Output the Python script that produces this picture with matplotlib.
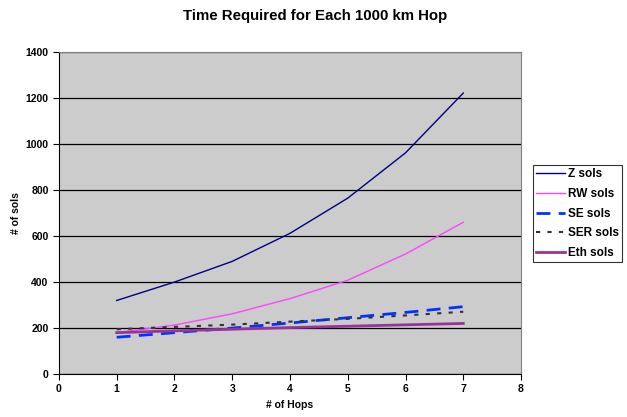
import numpy as np
import matplotlib.pyplot as plt

plt.rcParams['font.family'] = ['Liberation Sans', 'DejaVu Sans']

hops = [1, 2, 3, 4, 5, 6, 7]
z_sols = [320, 400, 490, 612, 765, 962, 1222]
rw_sols = [180, 213, 262, 328, 408, 522, 660]
se_sols = [160, 180, 200, 222, 245, 268, 293]
ser_sols = [195, 205, 215, 228, 240, 255, 271]
eth_sols = [180, 188, 195, 202, 208, 214, 220]

fig = plt.figure(figsize=(6.27, 4.17), dpi=100)
ax = fig.add_axes([0.094, 0.103, 0.737, 0.772])
ax.set_facecolor('#CCCCCC')

ax.plot(hops, z_sols, color='#000080', lw=1.0, label='Z sols')
ax.plot(hops, rw_sols, color='#FF44FF', lw=1.0, label='RW sols')
ax.plot(hops, se_sols, color='#0033FF', lw=2.0, ls=(0, (5, 3)), label='SE sols')
ax.plot(hops, ser_sols, color='#333333', lw=1.5, ls=(0, (2, 3.5)), label='SER sols')
ax.plot(hops, eth_sols, color='#993399', lw=2.0, label='Eth sols')

ax.set_xlim(0, 8)
ax.set_ylim(0, 1400)
ax.set_xticks(range(0, 9))
ax.set_yticks(range(0, 1401, 200))
ax.yaxis.grid(True, color='black', lw=0.9)
ax.set_axisbelow(True)
ax.tick_params(direction='out', length=4, labelsize=7.5, width=0.8)
for lab in ax.get_xticklabels() + ax.get_yticklabels():
    lab.set_fontweight('bold')
ax.spines['left'].set_color('black')
ax.spines['bottom'].set_color('black')
ax.spines['top'].set_color('#808080')
ax.spines['right'].set_color('#808080')

ax.set_xlabel('# of Hops', fontsize=7.5, fontweight='bold')
ax.set_ylabel('# of sols', fontsize=7.5, fontweight='bold', labelpad=3)
fig.suptitle('Time Required for Each 1000 km Hop', x=0.503, y=0.978,
             fontsize=10.8, fontweight='bold')

leg = fig.legend(loc='upper left', bbox_to_anchor=(0.850, 0.604),
                 prop={'weight': 'bold', 'size': 8.5},
                 frameon=True, fancybox=False, edgecolor='black',
                 handlelength=2.5, handletextpad=0.2, labelspacing=0.66,
                 borderpad=0.25, borderaxespad=0)
leg.get_frame().set_linewidth(0.8)

fig.savefig('out.png', dpi=100)
